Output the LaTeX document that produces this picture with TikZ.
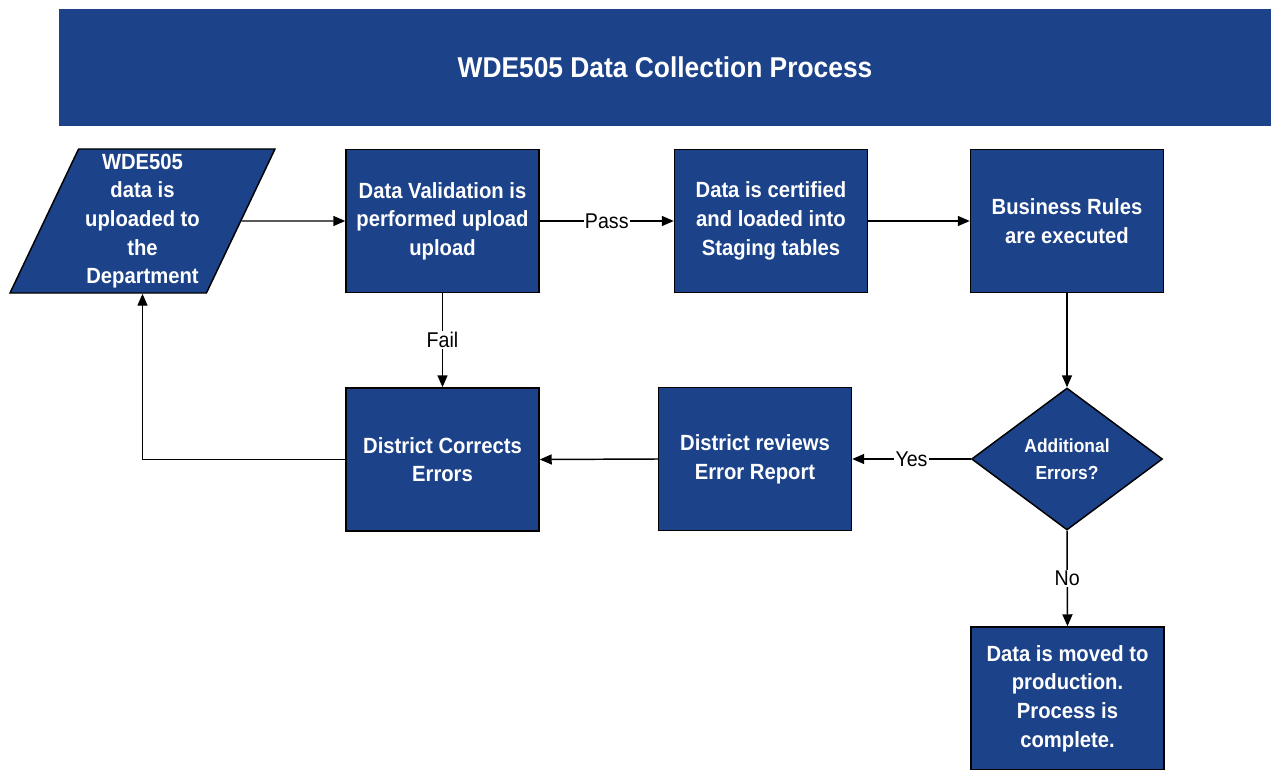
\documentclass[tikz,border=0pt]{standalone}
\usepackage{fontspec}
\setmainfont[FakeStretch=0.92]{Liberation Sans}
\usetikzlibrary{arrows.meta, shapes.geometric}
\definecolor{wdeblue}{RGB}{28,66,137}

\begin{document}
\begin{tikzpicture}[x=0.75pt, y=-0.75pt,
		procbox/.style={draw, line width=1.1pt, fill=wdeblue, minimum width=144.75pt, minimum height=107.25pt, inner sep=0pt, align=center, text=white, font=\bfseries\fontsize{16.5}{21.5}\selectfont},
		decision/.style={draw, line width=1.1pt, fill=wdeblue, diamond, minimum width=143.25pt, minimum height=106.5pt, inner sep=0pt, align=center, text=white, font=\bfseries\fontsize{14.2}{20}\selectfont},
		inputbox/.style={draw, line width=1.1pt, fill=wdeblue, trapezium, trapezium left angle=63, trapezium right angle=117, trapezium stretches body, minimum width=198.75pt, minimum height=108pt, inner sep=0pt, align=center, text=white, font=\bfseries\fontsize{16.5}{21.5}\selectfont},
		lbl/.style={fill=white, inner sep=1pt, font=\fontsize{16}{18}\selectfont},
		arrow/.style={draw, line width=1.1pt, -{Triangle[length=9pt,width=7.5pt]}}
	]
	\useasboundingbox (0,0) rectangle (1271,770);

	% header
	\node[fill=wdeblue, minimum width=909pt, minimum height=87.75pt, inner sep=0pt, text=white, font=\bfseries\fontsize{21.5}{24}\selectfont] (title) at (665,67.5) {WDE505 Data Collection Process};

	% top row
	\node[inputbox] (upload) at (142.5,221) {WDE505\\data is\\uploaded to\\the\\Department};
	\node[procbox] (valid) at (442.5,221) {Data Validation is\\performed upload\\upload};
	\node[procbox] (certify) at (771,221) {Data is certified\\and loaded into\\Staging tables};
	\node[procbox] (rules) at (1067,221) {Business Rules\\are executed};

	% middle row
	\node[decision] (errors) at (1067,459) {Additional\\Errors?};
	\node[procbox] (review) at (755,459) {District reviews\\Error Report};
	\node[procbox] (correct) at (442.5,459.5) {District Corrects\\Errors};

	% bottom
	\node[procbox] (done) at (1067.5,698.5) {Data is moved to\\production.\\Process is\\complete.};

	% connectors
	\draw[arrow] (upload.east) -- (valid.west);
	\draw[arrow] (valid.east) -- node[lbl] {Pass} (certify.west);
	\draw[arrow] (certify.east) -- (rules.west);
	\draw[arrow] (rules.south) -- (errors.north);
	\draw[arrow] (errors.west) -- node[lbl] {Yes} (review.east);
	\draw[arrow] (review.west) -- (correct.east);
	\draw[arrow] (valid.south) -- node[lbl] {Fail} (correct.north);
	\draw[arrow] (correct.west) -| (upload.south);
	\draw[arrow] (errors.south) -- node[lbl] {No} (done.north);

\end{tikzpicture}
\end{document}
